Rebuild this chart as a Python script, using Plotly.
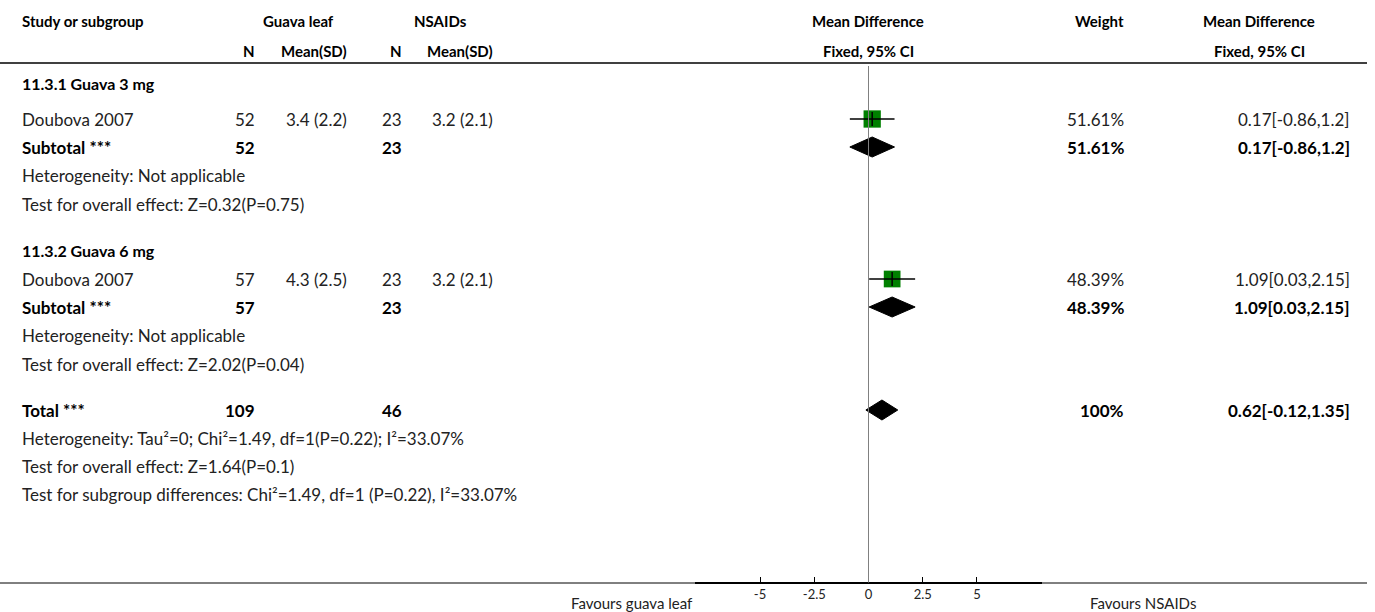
import plotly.graph_objects as go

# ---- data -------------------------------------------------------------
group_labels = ["11.3.1 Guava 3 mg", "11.3.2 Guava 6 mg"]
study_names = ["Doubova 2007", "Doubova 2007"]
guava_n = [52, 57]
guava_mean = [3.4, 4.3]
guava_sd = [2.2, 2.5]
nsaid_n = [23, 23]
nsaid_mean = [3.2, 3.2]
nsaid_sd = [2.1, 2.1]
md = [0.17, 1.09]
md_lo = [-0.86, 0.03]
md_hi = [1.2, 2.15]
weights = [51.61, 48.39]
group_z = ["Z=0.32(P=0.75)", "Z=2.02(P=0.04)"]

total_guava_n = 109
total_nsaid_n = 46
total_md = 0.62
total_lo = -0.12
total_hi = 1.35
total_weight = 100
total_het = "Heterogeneity: Tau²=0; Chi²=1.49, df=1(P=0.22); I²=33.07%"
total_z = "Test for overall effect: Z=1.64(P=0.1)"
subgroup_test = "Test for subgroup differences: Chi²=1.49, df=1 (P=0.22), I²=33.07%"

tick_vals = [-5, -2.5, 0, 2.5, 5]
tick_text = ["-5", "-2.5", "0", "2.5", "5"]

# ---- layout constants (pixels) ----------------------------------------
W, H = 1375, 612
FONT = "Lato, 'Source Sans Pro', Roboto, sans-serif"
FS = 17
FS_HEAD = 15
FS_GROUP = 16
TXT = "#222222"
HEAD_Y1, HEAD_Y2, HEAD_LINE = 21, 51, 63
AXIS_Y = 583
# row positions for each group block and the totals block
group_rows = [[83, 119, 147, 175, 204], [250, 279, 307, 335, 364]]
total_rows = [410, 438, 466, 494]

X_STUDY = 20
X_GN, X_GM = 257, 349
X_NN, X_NM = 404, 495
X_WEIGHT = 1126
X_CI = 1352
PLOT_L, PLOT_R = 695, 1042

fig = go.Figure()
annotations = []
shapes = []


def px(x):
    return x / W


def text(x, y, s, anchor="left", bold=False, size=FS, color=TXT):
    annotations.append(dict(
        x=px(x), y=y, xref="paper", yref="y", text=f"<b>{s}</b>" if bold else s,
        showarrow=False, xanchor=anchor, yanchor="middle",
        font=dict(family=FONT, size=size, color="#000000" if bold else color),
    ))


def head(x, y, s, anchor="left", size=FS_HEAD):
    text(x, y, s, anchor, bold=True, size=size)


def hline(y, x0, x1, width=1.0, color="#000000"):
    shapes.append(dict(type="line", xref="paper", yref="y", x0=px(x0), x1=px(x1),
                       y0=y, y1=y, line=dict(color=color, width=width)))


def ci_label(m, lo, hi):
    return f"{m:g}[{lo:g},{hi:g}]"


def diamond(m, lo, hi, yc, half=10):
    fig.add_trace(go.Scatter(
        x=[lo, m, hi, m, lo], y=[yc, yc - half, yc, yc + half, yc],
        mode="lines", fill="toself", fillcolor="#000000",
        line=dict(color="#000000", width=1), hoverinfo="skip", showlegend=False))


# header
head(X_STUDY, HEAD_Y1, "Study or subgroup")
head(298, HEAD_Y1, "Guava leaf", "center")
head(440, HEAD_Y1, "NSAIDs", "center")
head(868, HEAD_Y1, "Mean Difference", "center")
head(X_WEIGHT, HEAD_Y1, "Weight", "right")
head(1259, HEAD_Y1, "Mean Difference", "center")
head(X_GN, HEAD_Y2, "N", "right")
head(X_GM, HEAD_Y2, "Mean(SD)", "right")
head(X_NN, HEAD_Y2, "N", "right")
head(X_NM, HEAD_Y2, "Mean(SD)", "right")
head(868, HEAD_Y2, "Fixed, 95% CI", "center")
head(1259, HEAD_Y2, "Fixed, 95% CI", "center")
hline(HEAD_LINE, 0, 1367, width=1.5)

# subgroup blocks
for i, rows in enumerate(group_rows):
    y_lab, y_study, y_sub, y_het, y_z = rows
    head(X_STUDY, y_lab, group_labels[i], size=FS_GROUP)

    text(X_STUDY, y_study, study_names[i])
    text(X_GN, y_study, str(guava_n[i]), "right")
    text(X_GM, y_study, f"{guava_mean[i]:g} ({guava_sd[i]:g})", "right")
    text(X_NN, y_study, str(nsaid_n[i]), "right")
    text(X_NM, y_study, f"{nsaid_mean[i]:g} ({nsaid_sd[i]:g})", "right")
    text(X_WEIGHT, y_study, f"{weights[i]:g}%", "right")
    text(X_CI, y_study, ci_label(md[i], md_lo[i], md_hi[i]), "right")

    text(X_STUDY, y_sub, "Subtotal ***", bold=True)
    text(X_GN, y_sub, str(guava_n[i]), "right", bold=True)
    text(X_NN, y_sub, str(nsaid_n[i]), "right", bold=True)
    text(X_WEIGHT, y_sub, f"{weights[i]:g}%", "right", bold=True)
    text(X_CI, y_sub, ci_label(md[i], md_lo[i], md_hi[i]), "right", bold=True)

    text(X_STUDY, y_het, "Heterogeneity: Not applicable")
    text(X_STUDY, y_z, "Test for overall effect: " + group_z[i])

    # study estimate: CI whisker, weighted square, centre tick
    size = 17 * (weights[i] / 50) ** 0.5
    fig.add_trace(go.Scatter(
        x=[md[i]], y=[y_study], mode="markers",
        marker=dict(symbol="square", size=size, color="#008000", line=dict(width=0)),
        hoverinfo="skip", showlegend=False))
    fig.add_trace(go.Scatter(
        x=[md_lo[i], md_hi[i]], y=[y_study, y_study], mode="lines",
        line=dict(color="#000000", width=1.5), hoverinfo="skip", showlegend=False))
    fig.add_trace(go.Scatter(
        x=[md[i]], y=[y_study], mode="markers",
        marker=dict(symbol="line-ns", size=10, line=dict(color="#000000", width=1.5)),
        hoverinfo="skip", showlegend=False))

    diamond(md[i], md_lo[i], md_hi[i], y_sub)

# overall
y_tot, y_het, y_z, y_sg = total_rows
text(X_STUDY, y_tot, "Total ***", bold=True)
text(X_GN, y_tot, str(total_guava_n), "right", bold=True)
text(X_NN, y_tot, str(total_nsaid_n), "right", bold=True)
text(X_WEIGHT, y_tot, f"{total_weight:g}%", "right", bold=True)
text(X_CI, y_tot, ci_label(total_md, total_lo, total_hi), "right", bold=True)
text(X_STUDY, y_het, total_het)
text(X_STUDY, y_z, total_z)
text(X_STUDY, y_sg, subgroup_test)
diamond(total_md, total_lo, total_hi, y_tot)

# line of no effect
shapes.append(dict(type="line", xref="x", yref="y", x0=0, x1=0, y0=HEAD_LINE + 3, y1=AXIS_Y,
                   line=dict(color="#808080", width=1)))
# table bottom rule
hline(AXIS_Y, 0, 1367, width=1.0)

# favours labels
text(695, 603, "Favours guava leaf", "right", size=15)
text(1088, 603, "Favours NSAIDs", "left", size=15)

fig.update_layout(
    width=W, height=H,
    margin=dict(l=0, r=0, t=0, b=0),
    paper_bgcolor="white", plot_bgcolor="white",
    showlegend=False,
    annotations=annotations,
    shapes=shapes,
    xaxis=dict(
        domain=[PLOT_L / W, PLOT_R / W], range=[-8, 8],
        anchor="free", position=1 - AXIS_Y / H,
        showgrid=False, zeroline=False,
        showline=True, linecolor="#000000", linewidth=1.5,
        ticks="inside", ticklen=5, tickcolor="#000000", tickwidth=1,
        tickvals=tick_vals, ticktext=tick_text,
        tickfont=dict(family=FONT, size=13, color=TXT),
        fixedrange=True,
    ),
    yaxis=dict(range=[H, 0], domain=[0, 1], visible=False, fixedrange=True),
)

fig.write_html("out.html")
